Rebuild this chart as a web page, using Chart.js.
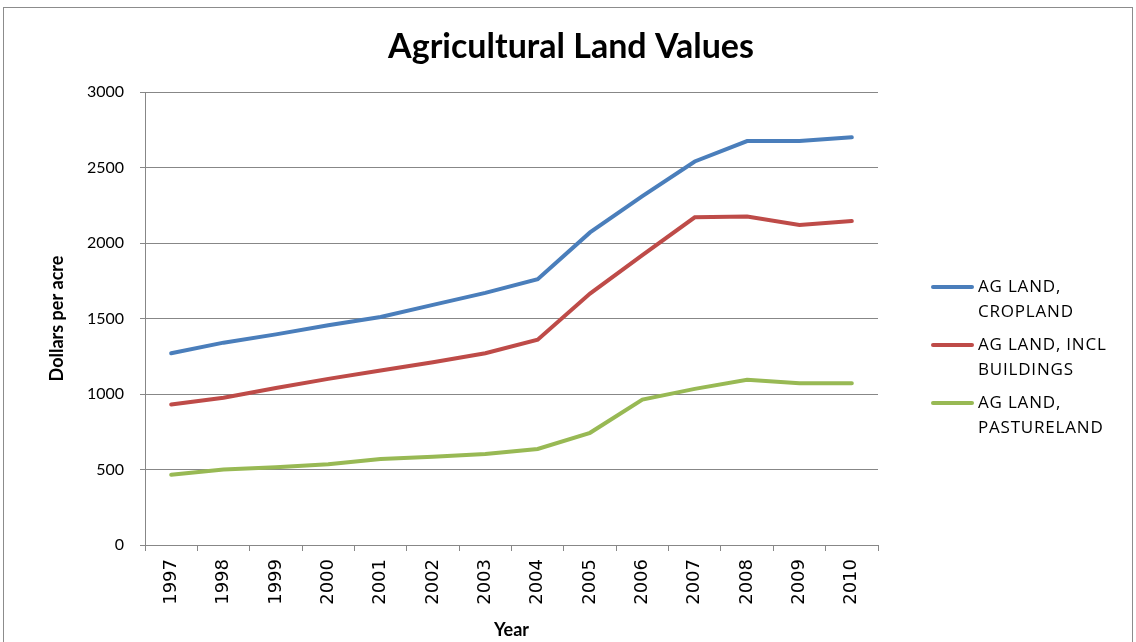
<!DOCTYPE html>
<html>
<head>
<meta charset="utf-8">
<script src="https://cdn.jsdelivr.net/npm/chart.js@4.4.1/dist/chart.umd.min.js"></script>
<style>
  html, body { margin: 0; padding: 0; background: #fff; }
  #wrap { width: 1136px; height: 642px; }
</style>
</head>
<body>
<div id="wrap"><canvas id="landChart" width="1136" height="642"></canvas></div>
<script>
// data
var years = ['1997','1998','1999','2000','2001','2002','2003','2004','2005','2006','2007','2008','2009','2010'];
var seriesNames = ['AG LAND, CROPLAND', 'AG LAND, INCL BUILDINGS', 'AG LAND, PASTURELAND'];
var cropland    = [1270, 1340, 1395, 1455, 1510, 1590, 1670, 1760, 2070, 2310, 2540, 2675, 2675, 2700];
var buildings   = [930, 975, 1040, 1100, 1155, 1210, 1270, 1360, 1665, 1920, 2170, 2175, 2120, 2145];
var pastureland = [465, 500, 515, 535, 570, 585, 603, 636, 743, 963, 1034, 1094, 1072, 1072];
var yTicks = [0, 500, 1000, 1500, 2000, 2500, 3000];
var chartTitle = 'Agricultural Land Values';

var colors = ['#4a7ebb', '#be4b48', '#98b954'];
var gridColor = '#878787';

// frame, title and the wrapped legend, drawn like the Excel chart
var excelBits = {
  id: 'excelBits',
  beforeDraw: function(chart) {
    var c = chart.ctx;
    c.save();
    c.fillStyle = '#fff';
    c.fillRect(0, 0, chart.width, chart.height);
    c.strokeStyle = '#8c8c8c';
    c.lineWidth = 1;
    c.strokeRect(3.5, 7.5, 1129, 660);
    c.restore();
  },
  afterDraw: function(chart) {
    var c = chart.ctx;
    c.save();
    c.fillStyle = '#000';
    c.textAlign = 'center';
    c.textBaseline = 'middle';
    c.font = 'bold 34px Lato';
    c.fillText(chartTitle, 571, 47);

    c.textAlign = 'left';
    c.font = '17px "Open Sans"';
    c.letterSpacing = '0.8px';
    var y0 = 287;
    chart.data.datasets.forEach(function(ds, i) {
      var words = ds.label.split(' ');
      var lines = [], cur = '';
      words.forEach(function(w) {
        var t = cur ? cur + ' ' + w : w;
        if (c.measureText(t).width > 150 && cur) { lines.push(cur); cur = w; }
        else cur = t;
      });
      lines.push(cur);
      var y = y0 + i * 58;
      c.strokeStyle = ds.borderColor;
      c.lineWidth = 4;
      c.lineCap = 'round';
      c.beginPath();
      c.moveTo(933, y);
      c.lineTo(972, y);
      c.stroke();
      lines.forEach(function(l, k) {
        c.fillText(l, 978, y + k * 25);
      });
    });
    c.restore();
  }
};

var ctx = document.getElementById('landChart').getContext('2d');
new Chart(ctx, {
  type: 'line',
  data: {
    labels: years,
    datasets: [
      { label: seriesNames[0], data: cropland, borderColor: colors[0] },
      { label: seriesNames[1], data: buildings, borderColor: colors[1] },
      { label: seriesNames[2], data: pastureland, borderColor: colors[2] }
    ].map(function(d) {
      d.borderWidth = 4;
      d.pointRadius = 0;
      d.tension = 0;
      d.fill = false;
      d.borderCapStyle = 'round';
      return d;
    })
  },
  options: {
    responsive: false,
    animation: false,
    layout: { padding: { left: 0, top: 92, right: 258, bottom: 0 } },
    plugins: {
      legend: { display: false },
      tooltip: { enabled: false },
      title: { display: false }
    },
    scales: {
      x: {
        type: 'category',
        offset: true,
        grid: { offset: true, drawOnChartArea: false, color: gridColor, tickLength: 6 },
        border: { color: gridColor },
        ticks: {
          color: '#000',
          minRotation: 90, maxRotation: 90,
          padding: 8,
          font: { family: 'DejaVu Sans', size: 18 }
        },
        title: {
          display: true,
          text: 'Year',
          color: '#000',
          font: { family: 'Lato', size: 18, weight: 'bold', lineHeight: 1.2 },
          padding: { top: 0, bottom: 1 }
        },
        afterFit: function(s) { s.height = 97; }
      },
      y: {
        min: 0,
        max: 3000,
        afterBuildTicks: function(s) { s.ticks = yTicks.map(function(v) { return { value: v }; }); },
        grid: { color: gridColor, tickLength: 5 },
        border: { color: gridColor },
        ticks: {
          color: '#000',
          padding: 16,
          font: { family: 'Lato', size: 16 },
          callback: function(v) { return String(v); }
        },
        title: {
          display: true,
          text: 'Dollars per acre',
          color: '#000',
          font: { family: 'Lato', size: 18, weight: 'bold', lineHeight: 1.2 },
          padding: { top: 46, bottom: 0 }
        },
        afterFit: function(s) { s.width = 145; }
      }
    }
  },
  plugins: [excelBits]
});
</script>
</body>
</html>
